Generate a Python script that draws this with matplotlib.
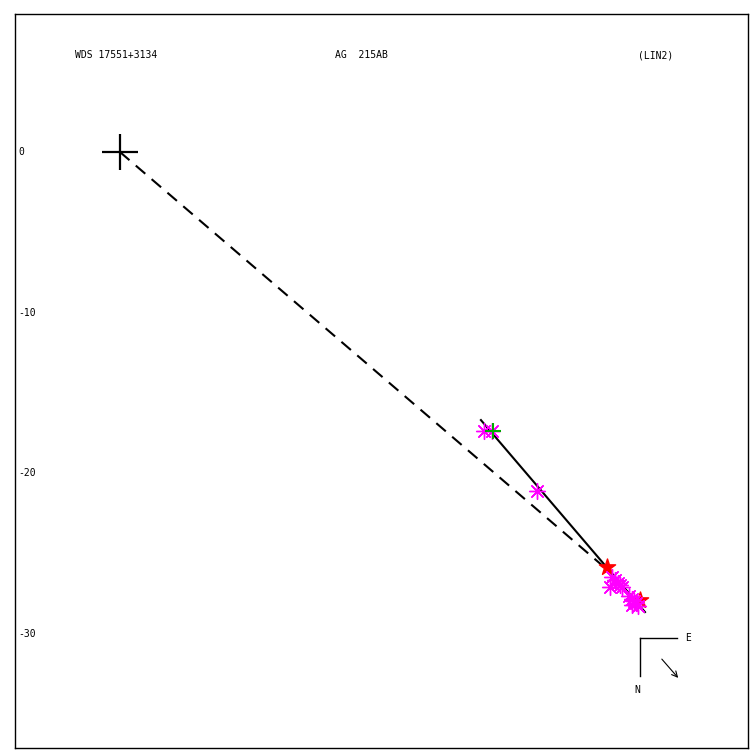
import matplotlib
matplotlib.use("Agg")
import matplotlib.pyplot as plt

# Data (arcsec offsets, x = east-west, y = north-south)
primary = (0.0, 0.0)
fit_line_x = [22.49, 32.71]
fit_line_y = [-16.70, -28.66]
dashed_x = [0.0, 30.09]
dashed_y = [0.0, -25.79]

obs_x = [22.68, 23.18, 25.98, 30.53, 30.65, 30.85, 31.03, 31.15, 31.28,
         31.72, 31.9, 32.03, 32.15, 31.9, 32.28]
obs_y = [-17.38, -17.38, -21.12, -27.10, -26.48, -26.67, -26.85, -26.98, -27.10,
         -27.66, -27.85, -27.97, -28.10, -28.22, -28.28]
green_x = [23.24]
green_y = [-17.38]
red_x = [30.34, 32.40]
red_y = [-25.86, -27.94]

yticks = [0, -10, -20, -30]
title_left = "WDS 17551+3134"
title_mid = "AG  215AB"
title_right = "(LIN2)"

fig = plt.figure(figsize=(7.5, 7.5), dpi=100)
ax = fig.add_axes([15/750, 2/750, 733/750, 734/750])
ax.set_xlim(-6.54, 39.13)
ax.set_ylim(-37.13, 8.60)
ax.set_xticks([])
ax.set_yticks([])
for s in ax.spines.values():
    s.set_linewidth(1.0)

mono = "DejaVu Sans Mono"

ax.plot(dashed_x, dashed_y, color="black", lw=1.5, ls=(0, (6, 4)))
ax.plot(fit_line_x, fit_line_y, color="black", lw=1.5)
ax.plot(*primary, marker="+", color="black", markersize=26, mew=1.6)

ast = (8, 2, 0)
ax.scatter(obs_x, obs_y, marker=ast, s=130, color="#ff00ff", linewidths=1.0, zorder=3)
ax.scatter(red_x, red_y, marker="*", s=150, color="red", zorder=2)
ax.scatter(green_x, green_y, marker="+", s=120, color="#00aa00", linewidths=1.5, zorder=4)

# y labels inside axes
import matplotlib.transforms as mtrans
tr = mtrans.blended_transform_factory(ax.transAxes, ax.transData)
for t in yticks:
    ax.text(0.004, t, str(t).replace("-", "\u2212") if False else str(t), transform=tr,
            ha="left", va="center", fontsize=7, family=mono)

# titles
ax.text(60/733, 1 - 41/734, title_left, transform=ax.transAxes, fontsize=7, family=mono, ha="left", va="center")
ax.text(320/733, 1 - 41/734, title_mid, transform=ax.transAxes, fontsize=7, family=mono, ha="left", va="center")
ax.text(623/733, 1 - 41/734, title_right, transform=ax.transAxes, fontsize=7, family=mono, ha="left", va="center")

# compass
def px(x, y):
    return ((x - 15) / 733, 1 - (y - 14) / 734)
ta = ax.transAxes
ax.plot(*zip(px(640, 638), px(640, 676)), color="black", lw=1, transform=ta)
ax.plot(*zip(px(640, 638), px(677, 638)), color="black", lw=1, transform=ta)
ax.text(*px(688, 638), "E", transform=ta, fontsize=7, family=mono, ha="center", va="center")
ax.text(*px(637, 690), "N", transform=ta, fontsize=7, family=mono, ha="center", va="center")
ax.annotate("", xy=px(680, 680), xytext=px(660, 657), xycoords=ta, textcoords=ta,
            arrowprops=dict(arrowstyle="->", color="black", lw=0.8))

fig.savefig("out.png", dpi=100)
